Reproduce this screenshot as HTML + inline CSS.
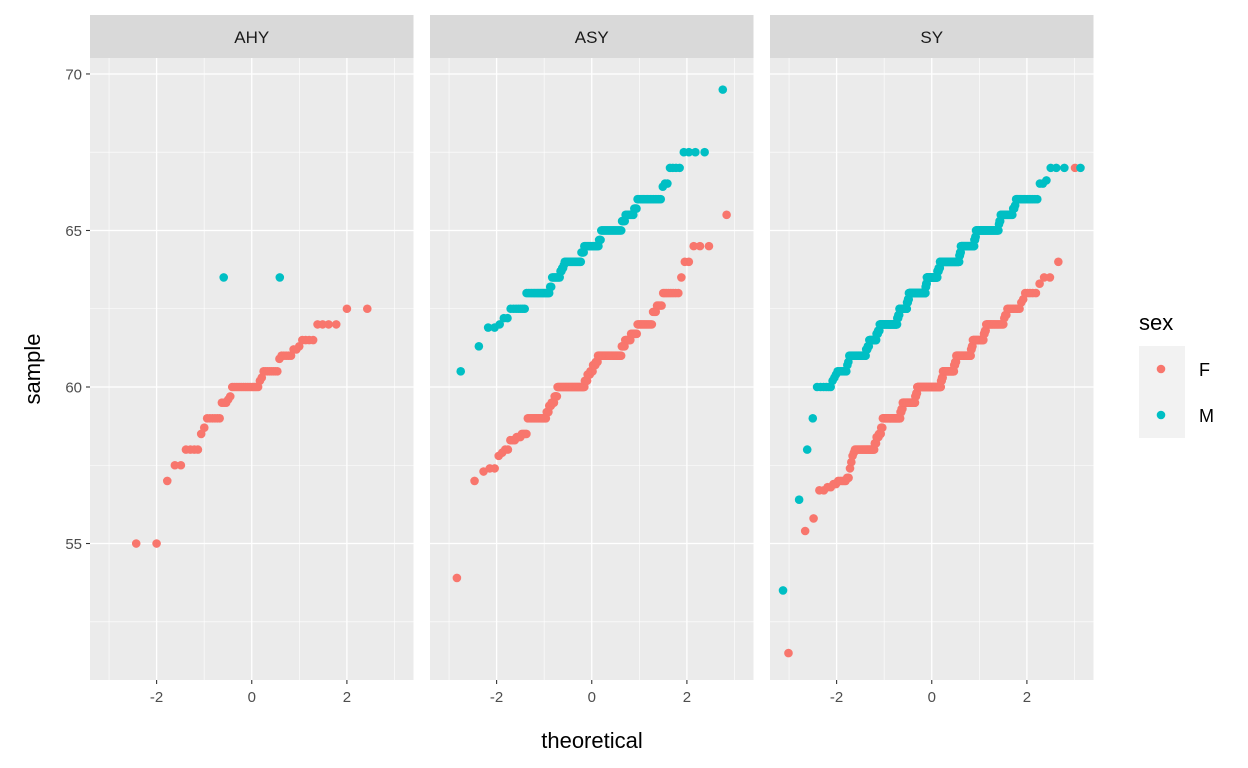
<!DOCTYPE html>
<html><head><meta charset="utf-8"><style>
body{margin:0;background:#fff;}
svg text{font-family:"Liberation Sans",Arial,sans-serif;}
#chart{display:block;}
</style></head><body>
<svg id="chart" width="1248" height="768" xmlns="http://www.w3.org/2000/svg"></svg>
<script>
const panelNames = ["AHY","ASY","SY"];
// sorted sample values as [value, count] per panel and sex
const ahyF = [[55,2],[57,1],[57.5,2],[58,4],[58.5,1],[58.7,1],[59,6],[59.5,3],[59.6,1],[59.7,1],[60,15],[60.2,1],[60.3,1],[60.5,8],[60.9,1],[61,5],[61.2,2],[61.3,1],[61.5,4],[62,4],[62.5,2]];
const ahyM = [[63.5,2]];
const asyF = [[53.9,1],[57,1],[57.3,1],[57.4,2],[57.8,1],[57.9,1],[58,2],[58.3,3],[58.4,3],[58.5,4],[59,18],[59.2,3],[59.4,3],[59.5,4],[59.7,4],[60,45],[60.2,5],[60.4,5],[60.5,5],[60.7,5],[60.8,4],[61,40],[61.3,5],[61.5,8],[61.7,8],[62,15],[62.4,3],[62.6,4],[63,8],[63.5,1],[64,2],[64.5,3],[65.5,1]];
const asyM = [[60.5,1],[61.3,1],[61.9,2],[62,1],[62.2,2],[62.5,7],[63,18],[63.2,2],[63.5,9],[63.7,2],[63.8,2],[63.9,1],[64,22],[64.3,4],[64.5,21],[64.7,3],[65,27],[65.3,4],[65.5,9],[65.7,3],[66,17],[66.4,1],[66.5,2],[67,4],[67.5,4],[69.5,1]];
const syF = [[51.5,1],[55.4,1],[55.8,1],[56.7,2],[56.8,2],[56.9,2],[57,5],[57.1,2],[57.4,1],[57.6,1],[57.8,1],[57.9,1],[58,24],[58.2,3],[58.4,4],[58.5,4],[58.7,3],[59,40],[59.2,3],[59.3,3],[59.5,36],[59.7,3],[59.8,3],[60,76],[60.2,3],[60.3,3],[60.5,34],[60.7,3],[60.8,3],[61,38],[61.2,2],[61.3,2],[61.5,22],[61.7,2],[61.8,2],[62,24],[62.2,1],[62.3,2],[62.5,10],[62.7,1],[62.8,1],[63,5],[63.3,1],[63.5,2],[64,1],[67,1]];
const syM = [[53.5,1],[56.4,1],[58,1],[59,1],[60,6],[60.2,1],[60.3,1],[60.4,1],[60.5,8],[60.7,1],[60.8,1],[61,24],[61.2,3],[61.3,3],[61.5,16],[61.7,4],[61.8,4],[62,55],[62.2,4],[62.3,4],[62.5,30],[62.7,4],[62.8,4],[63,75],[63.2,3],[63.3,3],[63.5,50],[63.7,6],[63.8,6],[64,85],[64.2,3],[64.3,3],[64.5,48],[64.7,3],[64.8,2],[65,55],[65.2,1],[65.3,2],[65.5,17],[65.7,2],[65.8,1],[66,15],[66.5,2],[66.6,1],[67,4]];
const yTicks = [55,60,65,70];
const yMinor = [52.5,57.5,62.5,67.5];
const xTicks = [-2,0,2];
const xMinor = [-3,-1,1,3];
const seriesColors = {F:"#F8766D", M:"#00BFC4"};

const NS="http://www.w3.org/2000/svg";
const svgEl=document.getElementById('chart');
function mk(tag,attrs,parent){const e=document.createElementNS(NS,tag);for(const k in attrs)e.setAttribute(k,attrs[k]);(parent||svgEl).appendChild(e);return e;}
function qnorm(p){
  const a=[-39.69683028665376,220.9460984245205,-275.9285104469687,138.3577518672690,-30.66479806614716,2.506628277459239];
  const b=[-54.47609879822406,161.5858368580409,-155.6989798598866,66.80131188771972,-13.28068155288572];
  const c=[-0.007784894002430293,-0.3223964580411365,-2.400758277161838,-2.549732539343734,4.374664141464968,2.938163982698783];
  const d=[0.007784695709041462,0.3224671290700398,2.445134137142996,3.754408661907416];
  const pl=0.02425;let q,r;
  if(p<pl){q=Math.sqrt(-2*Math.log(p));return (((((c[0]*q+c[1])*q+c[2])*q+c[3])*q+c[4])*q+c[5])/((((d[0]*q+d[1])*q+d[2])*q+d[3])*q+1);}
  if(p>1-pl){q=Math.sqrt(-2*Math.log(1-p));return -(((((c[0]*q+c[1])*q+c[2])*q+c[3])*q+c[4])*q+c[5])/((((d[0]*q+d[1])*q+d[2])*q+d[3])*q+1);}
  q=p-0.5;r=q*q;return (((((a[0]*r+a[1])*r+a[2])*r+a[3])*r+a[4])*r+a[5])*q/(((((b[0]*r+b[1])*r+b[2])*r+b[3])*r+b[4])*r+1);
}
const panelX=[90,430,770], panelW=323.5, panelTop=58, panelBottom=680;
const xMin=-3.4, xMax=3.4, yMin=50.64, yMax=70.51;
function yS(v){return panelBottom-(v-yMin)/(yMax-yMin)*(panelBottom-panelTop);}
function xS(p,t){return panelX[p]+(t-xMin)/(xMax-xMin)*panelW;}
const data=[[ahyF,ahyM],[asyF,asyM],[syF,syM]];

panelNames.forEach((pname,p)=>{
  const g=mk('g',{});
  
  
  const st=mk('rect',{x:panelX[p],y:15,width:panelW,height:43,fill:'#d9d9d9'},g);
  
  
  const tx=mk('text',{x:panelX[p]+panelW/2,y:43,'text-anchor':'middle','font-size':'17',fill:'#1a1a1a'},g);
  tx.textContent=pname;
  
  
  const bg=mk('rect',{x:panelX[p],y:panelTop,width:panelW,height:panelBottom-panelTop,fill:'#ebebeb'},g);
  
  
  yMinor.forEach(v=>{const l=mk('line',{x1:panelX[p],x2:panelX[p]+panelW,y1:yS(v),y2:yS(v),stroke:'#fff','stroke-width':0.6},g);});
  xMinor.forEach(v=>{const l=mk('line',{x1:xS(p,v),x2:xS(p,v),y1:panelTop,y2:panelBottom,stroke:'#fff','stroke-width':0.6},g);});
  yTicks.forEach(v=>{const l=mk('line',{x1:panelX[p],x2:panelX[p]+panelW,y1:yS(v),y2:yS(v),stroke:'#fff','stroke-width':1.3},g);});
  xTicks.forEach(v=>{
    const l=mk('line',{x1:xS(p,v),x2:xS(p,v),y1:panelTop,y2:panelBottom,stroke:'#fff','stroke-width':1.3},g);
    
    
    const tk=mk('line',{x1:xS(p,v),x2:xS(p,v),y1:panelBottom,y2:panelBottom+4,stroke:'#333','stroke-width':1.1},g);
    
    
    const t=mk('text',{x:xS(p,v),y:panelBottom+22,'text-anchor':'middle','font-size':'15',fill:'#4d4d4d'},g);
    t.textContent=(v<0?'-':'')+Math.abs(v);
    
    
  });
  ['F','M'].forEach((sex,s)=>{
    const runs=data[p][s];
    let n=0;runs.forEach(r=>n+=r[1]);
    const a=n<=10?3/8:0.5;
    let i=0;
    runs.forEach(r=>{
      for(let k=0;k<r[1];k++){
        i++;
        const t=qnorm((i-a)/(n+1-2*a));
        const c=mk('circle',{cx:xS(p,t),cy:yS(r[0]),r:4.3,fill:seriesColors[sex]},g);
        
        
      }
    });
  });
});
yTicks.forEach(v=>{
  const tk=mk('line',{x1:86,x2:90,y1:yS(v),y2:yS(v),stroke:'#333','stroke-width':1.1});
  
  
  const t=mk('text',{x:82,y:yS(v)+5.5,'text-anchor':'end','font-size':'15',fill:'#4d4d4d'});
  t.textContent=v;
  
  
});
</script>
<svg width="1248" height="768" style="position:absolute;left:0;top:0;pointer-events:none" xmlns="http://www.w3.org/2000/svg">
<text x="592" y="748" text-anchor="middle" font-size="22" fill="#000" font-family="Liberation Sans, sans-serif">theoretical</text>
<text x="0" y="0" transform="translate(40,369) rotate(-90)" text-anchor="middle" font-size="22" fill="#000" font-family="Liberation Sans, sans-serif">sample</text>
<g>
<text x="1139" y="330" font-size="22" fill="#000" font-family="Liberation Sans, sans-serif">sex</text>
<rect x="1139" y="346" width="46" height="46" fill="#f2f2f2"/>
<rect x="1139" y="392" width="46" height="46" fill="#f2f2f2"/>
<circle cx="1161" cy="369" r="4.3" fill="#F8766D"/>
<circle cx="1161" cy="415" r="4.3" fill="#00BFC4"/>
<text x="1199" y="376" font-size="18" fill="#000" font-family="Liberation Sans, sans-serif">F</text>
<text x="1199" y="422" font-size="18" fill="#000" font-family="Liberation Sans, sans-serif">M</text>
</g>
</svg>
</body></html>
